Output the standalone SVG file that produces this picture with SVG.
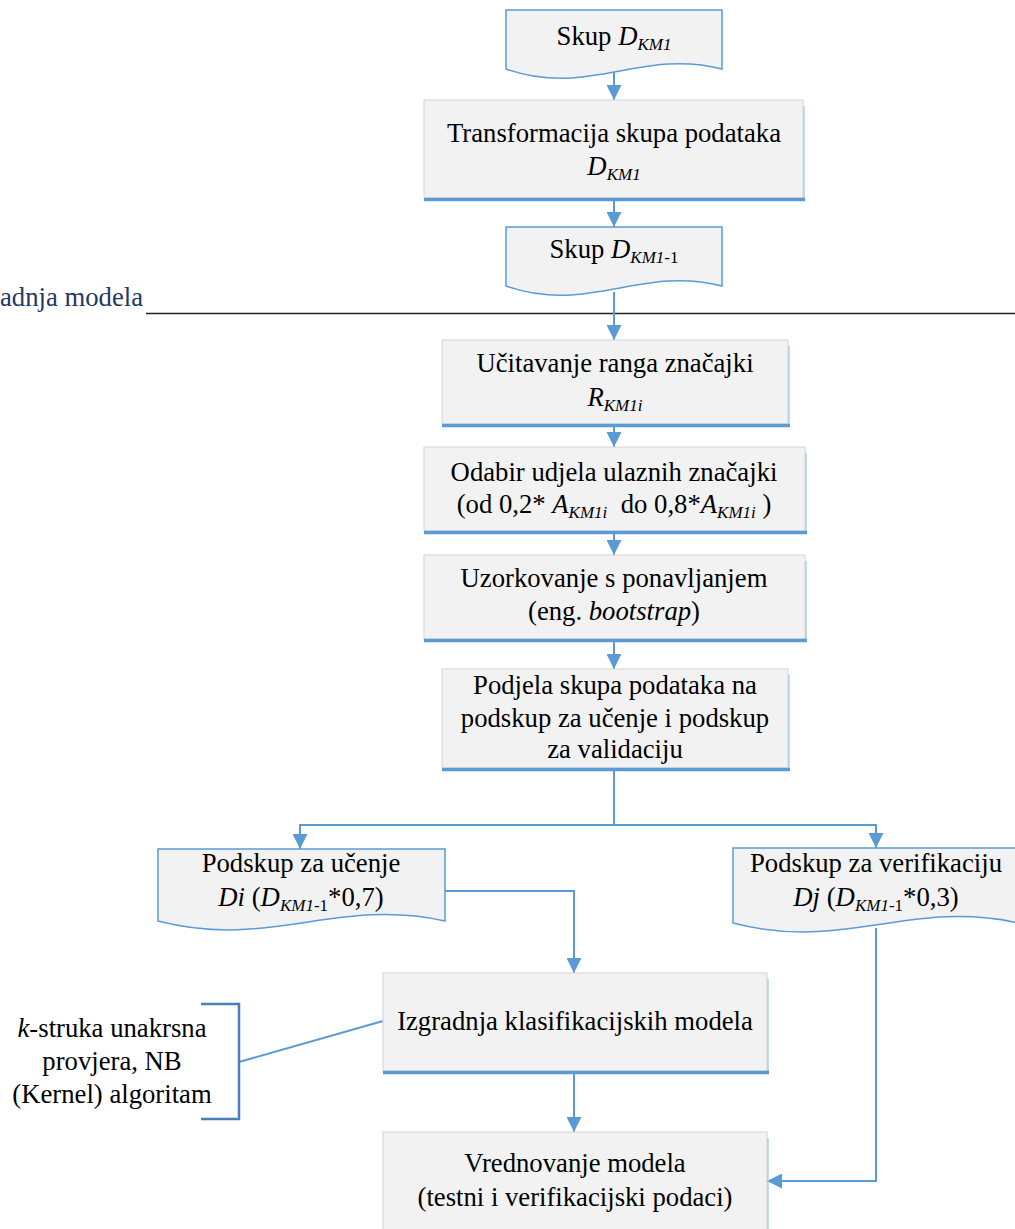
<svg xmlns="http://www.w3.org/2000/svg" width="1015" height="1229" viewBox="0 0 1015 1229">
<style>
text{font-family:"Liberation Serif","Times New Roman",serif;font-size:26.7px;fill:#000;text-anchor:middle}
.it{font-style:italic}
.sub{font-size:17px}
.box{fill:#f2f2f2;stroke:#d4d4d4;stroke-width:1}
.bb{stroke:#5b9bd5;stroke-width:3.5;fill:none}
.br{stroke:#9dc3e6;stroke-width:1.2;fill:none}
.doc{fill:#f2f2f2;stroke:#5b9bd5;stroke-width:1.5}
.con{stroke:#5b9bd5;stroke-width:2;fill:none}
.conA{stroke:#5b9bd5;stroke-width:2;fill:none;marker-end:url(#arr)}
.title{fill:#1f3864;text-anchor:start}
</style>
<defs>
<marker id="arr" viewBox="0 0 15 15" refX="15" refY="7.5" markerWidth="15" markerHeight="15" markerUnits="userSpaceOnUse" orient="auto">
<path d="M0,0 L15,7.5 L0,15 z" fill="#5b9bd5"/>
</marker>
</defs>

<g id="section">
<text class="title" x="0" y="306">adnja modela</text>
<line x1="146" y1="313.5" x2="1015" y2="313.5" stroke="#222" stroke-width="1.5"/>
</g>

<g id="connectors">
<line class="conA" x1="614" y1="72" x2="614" y2="100"/>
<line class="conA" x1="614" y1="200" x2="614" y2="227"/>
<line class="conA" x1="614" y1="292" x2="614" y2="340"/>
<line class="conA" x1="614" y1="426" x2="614" y2="447"/>
<line class="conA" x1="614" y1="533" x2="614" y2="555"/>
<line class="conA" x1="614" y1="641" x2="614" y2="669"/>
<polyline class="con" points="614,770 614,825"/>
<polyline class="con" points="300,825 876,825"/>
<line class="conA" x1="300" y1="824" x2="300" y2="849"/>
<line class="conA" x1="876" y1="824" x2="876" y2="848"/>
<polyline class="conA" points="445,891 574,891 574,973"/>
<polyline class="conA" points="876,928 876,1181 767,1181"/>
<line class="conA" x1="574" y1="1073" x2="574" y2="1132"/>
<line class="con" x1="239" y1="1062" x2="383" y2="1021"/>
</g>

<g id="n1">
<path class="doc" d="M506,10 H722 V69 C640,48 590,98 506,69 Z"/>
<text x="614" y="45">Skup <tspan class="it">D</tspan><tspan class="it sub" dy="5">KM1</tspan></text>
</g>

<g id="n2">
<rect class="box" x="424" y="100" width="379" height="98"/>
<line class="br" x1="804" y1="106" x2="804" y2="199"/>
<line class="bb" x1="424" y1="199.5" x2="805" y2="199.5"/>
<text x="614" y="142">Transformacija skupa podataka</text>
<text x="614" y="175"><tspan class="it">D</tspan><tspan class="it sub" dy="5">KM1</tspan></text>
</g>

<g id="n3">
<path class="doc" d="M506,227 H722 V286 C640,265 590,315 506,286 Z"/>
<text x="614" y="258">Skup <tspan class="it">D</tspan><tspan class="it sub" dy="5">KM1</tspan><tspan class="sub">-1</tspan></text>
</g>

<g id="n4">
<rect class="box" x="442" y="340" width="346" height="84"/>
<line class="br" x1="789" y1="346" x2="789" y2="425"/>
<line class="bb" x1="442" y1="425.5" x2="790" y2="425.5"/>
<text x="615" y="372">Učitavanje ranga značajki</text>
<text x="615" y="406"><tspan class="it">R</tspan><tspan class="it sub" dy="5">KM1i</tspan></text>
</g>

<g id="n5">
<rect class="box" x="424" y="447" width="381" height="84"/>
<line class="br" x1="806" y1="453" x2="806" y2="532"/>
<line class="bb" x1="424" y1="532.5" x2="807" y2="532.5"/>
<text x="614" y="481">Odabir udjela ulaznih značajki</text>
<text x="614" y="513">(od 0,2* <tspan class="it">A</tspan><tspan class="it sub" dy="5">KM1i</tspan><tspan dy="-5">&#160; do 0,8*</tspan><tspan class="it">A</tspan><tspan class="it sub" dy="5">KM1i</tspan><tspan dy="-5"> )</tspan></text>
</g>

<g id="n6">
<rect class="box" x="424" y="555" width="381" height="84"/>
<line class="br" x1="806" y1="561" x2="806" y2="640"/>
<line class="bb" x1="424" y1="640.5" x2="807" y2="640.5"/>
<text x="614" y="587">Uzorkovanje s ponavljanjem</text>
<text x="614" y="620">(eng. <tspan class="it">bootstrap</tspan>)</text>
</g>

<g id="n7">
<rect class="box" x="442" y="669" width="346" height="99"/>
<line class="br" x1="789" y1="675" x2="789" y2="769"/>
<line class="bb" x1="442" y1="769.5" x2="790" y2="769.5"/>
<text x="615" y="694">Podjela skupa podataka na</text>
<text x="615" y="727">podskup za učenje i podskup</text>
<text x="615" y="758">za validaciju</text>
</g>

<g id="n8">
<path class="doc" d="M158,849 H445 V921 C336,897 270,950 158,921 Z"/>
<text x="301" y="872">Podskup za učenje</text>
<text x="301" y="906"><tspan class="it">Di</tspan> (<tspan class="it">D</tspan><tspan class="it sub" dy="5">KM1</tspan><tspan class="sub">-1</tspan><tspan dy="-5">*0,7)</tspan></text>
</g>

<g id="n9">
<path class="doc" d="M733,848 H1019 V923 C910,899 844,952 733,923 Z"/>
<text x="876" y="872">Podskup za verifikaciju</text>
<text x="876" y="906"><tspan class="it">Dj</tspan> (<tspan class="it">D</tspan><tspan class="it sub" dy="5">KM1</tspan><tspan class="sub">-1</tspan><tspan dy="-5">*0,3)</tspan></text>
</g>

<g id="n10">
<rect class="box" x="383" y="973" width="384" height="98"/>
<line class="br" x1="768" y1="979" x2="768" y2="1072"/>
<line class="bb" x1="383" y1="1072.5" x2="769" y2="1072.5"/>
<text x="575" y="1030">Izgradnja klasifikacijskih modela</text>
</g>

<g id="n11">
<rect class="box" x="383" y="1132" width="384" height="105"/>
<line class="br" x1="768" y1="1138" x2="768" y2="1229"/>
<text x="575" y="1172">Vrednovanje modela</text>
<text x="575" y="1206">(testni i verifikacijski podaci)</text>
</g>

<g id="n12">
<path d="M201,1004 H239 V1119 H201" fill="none" stroke="#4a7ebb" stroke-width="2.5"/>
<text x="112" y="1037"><tspan class="it">k</tspan>-struka unakrsna</text>
<text x="112" y="1070">provjera, NB</text>
<text x="112" y="1103">(Kernel) algoritam</text>
</g>
</svg>
